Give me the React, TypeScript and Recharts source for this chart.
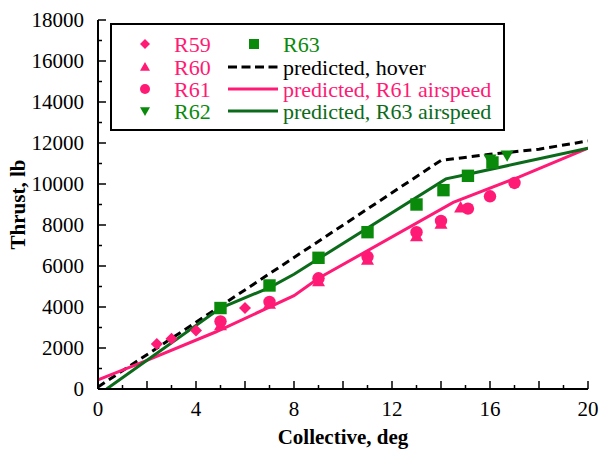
import { ComposedChart, Line, Scatter, XAxis, YAxis, Customized } from 'recharts'

const PINK = '#ff1a75'
const GREEN = '#0a8a0a'
const DARK_GREEN = '#0b6b1a'
const FONT = '"Liberation Serif", "Times New Roman", serif'

// axis ticks (labels only on the majors)
const xTicks = [0, 1, 2, 3, 4, 5, 6, 7, 8, 9, 10, 11, 12, 13, 14, 15, 16, 17, 18, 19, 20]
const yTicks = [0, 1000, 2000, 3000, 4000, 5000, 6000, 7000, 8000, 9000, 10000, 11000, 12000, 13000, 14000, 15000, 16000, 17000, 18000]

// measured thrust vs collective, per run
const r59Collective = [2.4, 3.0, 4.0, 6.0]
const r59Thrust = [2200, 2450, 2850, 3950]
const r60Collective = [5.0, 7.0, 9.0, 11.0, 13.0, 14.0, 14.8]
const r60Thrust = [3100, 4150, 5250, 6300, 7450, 8050, 8850]
const r61Collective = [5.0, 7.0, 9.0, 11.0, 13.0, 14.0, 15.1, 16.0, 17.0]
const r61Thrust = [3300, 4250, 5400, 6450, 7650, 8200, 8800, 9400, 10050]
const r62Collective = [16.0, 16.7]
const r62Thrust = [11200, 11400]
const r63Collective = [5.0, 7.0, 9.0, 11.0, 13.0, 14.1, 15.1, 16.1]
const r63Thrust = [3950, 5050, 6400, 7650, 9000, 9700, 10400, 11050]

// predictions
const hoverCollective = [0, 14, 16, 18, 20]
const hoverThrust = [100, 11150, 11450, 11700, 12100]
const r61PredCollective = [0, 2, 4.8, 8, 9, 14.5, 17.2, 20]
const r61PredThrust = [450, 1400, 2780, 4550, 5400, 9100, 10350, 11750]
const r63PredCollective = [0.35, 5, 7, 8, 9, 14.2, 15, 17.2, 20]
const r63PredThrust = [0, 3950, 4950, 5600, 6350, 10250, 10450, 11020, 11750]

const zip = (xs: number[], ys: number[]) => xs.map((x, i) => ({ x, y: ys[i] }))

const Diamond = ({ cx, cy, fill, s = 6 }: any) => (
  <path d={`M${cx},${cy - s}L${cx + s},${cy}L${cx},${cy + s}L${cx - s},${cy}Z`} fill={fill} />
)
const TriUp = ({ cx, cy, fill, s = 6.5 }: any) => (
  <path d={`M${cx},${cy - s}L${cx + s},${cy + s * 0.75}L${cx - s},${cy + s * 0.75}Z`} fill={fill} />
)
const TriDown = ({ cx, cy, fill, s = 6.5 }: any) => (
  <path d={`M${cx},${cy + s}L${cx + s},${cy - s * 0.75}L${cx - s},${cy - s * 0.75}Z`} fill={fill} />
)
const Dot = ({ cx, cy, fill, s = 6.2 }: any) => <circle cx={cx} cy={cy} r={s} fill={fill} />
const Square = ({ cx, cy, fill, s = 6.2 }: any) => (
  <rect x={cx - s} y={cy - s} width={s * 2} height={s * 2} fill={fill} />
)

const textStyle = { fontFamily: FONT, fontSize: 21, fill: '#000' }

function BottomTick({ x, y, payload }: any) {
  const v = payload.value
  const len = v % 2 === 0 ? 8 : 4
  return (
    <g>
      <line x1={x} y1={y} x2={x} y2={y - len} stroke="#000" strokeWidth={1.5} />
      {v % 4 === 0 && (
        <text x={x} y={y + 27} textAnchor="middle" style={textStyle}>{v}</text>
      )}
    </g>
  )
}

function TopTick({ x, y, payload }: any) {
  const len = payload.value % 2 === 0 ? 8 : 4
  return <line x1={x} y1={y} x2={x} y2={y + len} stroke="#000" strokeWidth={1.5} />
}

function LeftTick({ x, y, payload }: any) {
  const v = payload.value
  const len = v % 2000 === 0 ? 8 : 4
  return (
    <g>
      <line x1={x} y1={y} x2={x + len} y2={y} stroke="#000" strokeWidth={1.5} />
      {v % 2000 === 0 && (
        <text x={x - 14} y={y + 7} textAnchor="end" style={textStyle}>{v}</text>
      )}
    </g>
  )
}

function RightTick({ x, y, payload }: any) {
  const len = payload.value % 2000 === 0 ? 8 : 4
  return <line x1={x} y1={y} x2={x - len} y2={y} stroke="#000" strokeWidth={1.5} />
}

const legendRows = [
  { icon: 'diamond', color: PINK, label: 'R59' },
  { icon: 'up', color: PINK, label: 'R60' },
  { icon: 'circle', color: PINK, label: 'R61' },
  { icon: 'down', color: GREEN, label: 'R62' },
]
const legendRows2 = [
  { icon: 'square', color: GREEN, textColor: GREEN, label: 'R63' },
  { icon: 'dash', color: '#000', textColor: '#000', label: 'predicted, hover' },
  { icon: 'line', color: PINK, textColor: PINK, label: 'predicted, R61 airspeed' },
  { icon: 'line', color: DARK_GREEN, textColor: DARK_GREEN, label: 'predicted, R63 airspeed' },
]

function LegendIcon({ icon, cx, cy, color }: any) {
  const c = { cx, cy, fill: color, s: 5 }
  if (icon === 'diamond') return <Diamond {...c} />
  if (icon === 'up') return <TriUp {...c} />
  if (icon === 'circle') return <Dot {...c} />
  if (icon === 'down') return <TriDown {...c} />
  if (icon === 'square') return <Square {...c} />
  return (
    <line x1={cx - 25} y1={cy} x2={cx + 25} y2={cy} stroke={color} strokeWidth={3} strokeDasharray={icon === 'dash' ? '9 4.5' : undefined} />
  )
}

// boxed two-column key in the upper left of the plot
function BoxLegend() {
  const rowMid = [21, 44, 66, 88]
  const w = 395
  const h = 108
  return (
    <g transform="translate(110,23)">
      <rect x={1} y={1} width={w - 2} height={h - 2} fill="#fff" stroke="#000" strokeWidth={2} />
      {legendRows.map((r, i) => (
        <g key={r.label}>
          <LegendIcon icon={r.icon} cx={35} cy={rowMid[i]} color={r.color} />
          <text x={64} y={rowMid[i] + 7.5} fill={r.color} style={{ fontFamily: FONT, fontSize: 22 }}>{r.label}</text>
        </g>
      ))}
      {legendRows2.map((r, i) => (
        <g key={r.label}>
          <LegendIcon icon={r.icon} cx={r.icon === 'square' ? 144 : 143} cy={rowMid[i]} color={r.color} />
          <text x={173} y={rowMid[i] + 7.5} fill={r.textColor} style={{ fontFamily: FONT, fontSize: 22 }}>{r.label}</text>
        </g>
      ))}
    </g>
  )
}

export default function App() {
  return (
    <div style={{ position: 'absolute', left: 0, top: 0, width: 604, height: 450, background: '#fff' }}>
      <ComposedChart width={604} height={450} margin={{ top: 20, right: 16, bottom: 0, left: 0 }}>
        <XAxis
          type="number"
          dataKey="x"
          domain={[0, 20]}
          ticks={xTicks}
          interval={0}
          height={61}
          tickSize={0}
          tickMargin={0}
          tickLine={false}
          tick={<BottomTick />}
          axisLine={{ stroke: '#000', strokeWidth: 2 }}
          allowDataOverflow
          label={{ value: 'Collective, deg', position: 'insideBottom', offset: 6, style: { fontFamily: FONT, fontSize: 21, fontWeight: 'bold', fill: '#000' } }}
        />
        <XAxis
          xAxisId="top"
          orientation="top"
          type="number"
          dataKey="x"
          domain={[0, 20]}
          ticks={xTicks}
          interval={0}
          height={0}
          tickSize={0}
          tickMargin={0}
          tickLine={false}
          tick={<TopTick />}
          axisLine={{ stroke: '#000', strokeWidth: 2 }}
        />
        <YAxis
          type="number"
          domain={[0, 18000]}
          ticks={yTicks}
          interval={0}
          width={98}
          tickSize={0}
          tickMargin={0}
          tickLine={false}
          tick={<LeftTick />}
          axisLine={{ stroke: '#000', strokeWidth: 2 }}
          allowDataOverflow
          label={{ value: 'Thrust, lb', angle: -90, position: 'insideLeft', offset: 18, style: { fontFamily: FONT, fontSize: 21, fontWeight: 'bold', fill: '#000', textAnchor: 'middle' } }}
        />
        <YAxis
          yAxisId="right"
          orientation="right"
          type="number"
          domain={[0, 18000]}
          ticks={yTicks}
          interval={0}
          width={0}
          tickSize={0}
          tickMargin={0}
          tickLine={false}
          tick={<RightTick />}
          axisLine={{ stroke: '#000', strokeWidth: 2 }}
        />
        <Line data={zip(hoverCollective, hoverThrust)} dataKey="y" type="linear" stroke="#000" strokeWidth={3} strokeDasharray="8 5" dot={false} isAnimationActive={false} />
        <Line data={zip(r61PredCollective, r61PredThrust)} dataKey="y" type="linear" stroke={PINK} strokeWidth={3} dot={false} isAnimationActive={false} />
        <Line data={zip(r63PredCollective, r63PredThrust)} dataKey="y" type="linear" stroke={DARK_GREEN} strokeWidth={3} dot={false} isAnimationActive={false} />
        <Scatter data={zip(r59Collective, r59Thrust)} dataKey="y" shape={(p: any) => <Diamond cx={p.cx} cy={p.cy} fill={PINK} />} isAnimationActive={false} />
        <Scatter data={zip(r60Collective, r60Thrust)} dataKey="y" shape={(p: any) => <TriUp cx={p.cx} cy={p.cy} fill={PINK} />} isAnimationActive={false} />
        <Scatter data={zip(r61Collective, r61Thrust)} dataKey="y" shape={(p: any) => <Dot cx={p.cx} cy={p.cy} fill={PINK} />} isAnimationActive={false} />
        <Scatter data={zip(r62Collective, r62Thrust)} dataKey="y" shape={(p: any) => <TriDown cx={p.cx} cy={p.cy} fill={GREEN} />} isAnimationActive={false} />
        <Scatter data={zip(r63Collective, r63Thrust)} dataKey="y" shape={(p: any) => <Square cx={p.cx} cy={p.cy} fill={GREEN} />} isAnimationActive={false} />
        <Customized component={<BoxLegend />} />
      </ComposedChart>
    </div>
  )
}
